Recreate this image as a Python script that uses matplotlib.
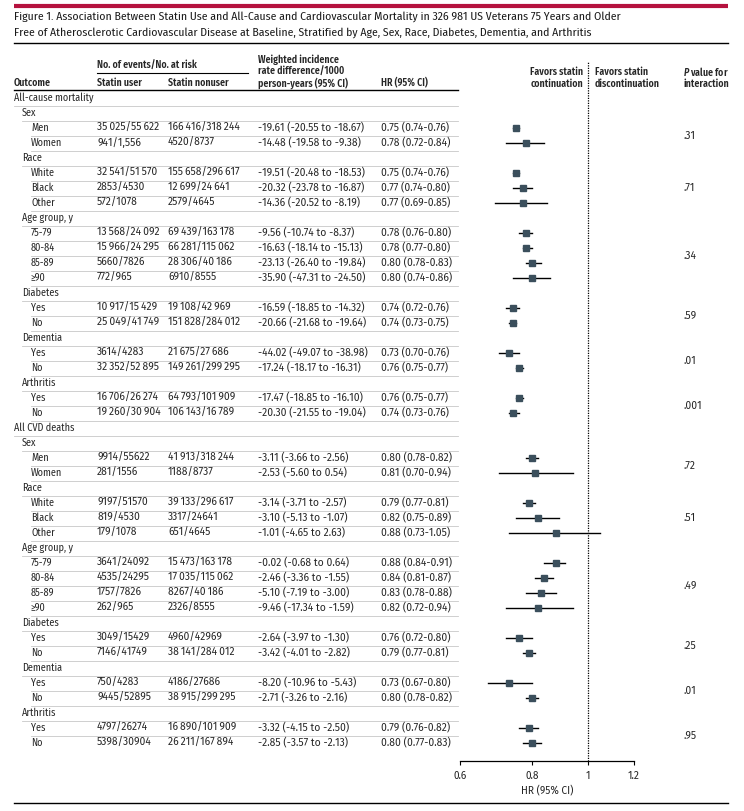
import numpy as np
import matplotlib
matplotlib.use("Agg")
import matplotlib.pyplot as plt
from matplotlib.ticker import FixedLocator, NullLocator

FONT = ['Fira Sans Condensed', 'DejaVu Sans']
NUMFONT = ['Fira Sans', 'DejaVu Sans']
plt.rcParams['font.family'] = FONT
plt.rcParams['mathtext.fontset'] = 'custom'
plt.rcParams['mathtext.it'] = 'Fira Sans Condensed:italic:semibold'
plt.rcParams['mathtext.rm'] = 'Fira Sans Condensed:semibold'

# ---- data ----
outcomes = ["All-cause mortality", "All CVD deaths"]
groups = ["Sex", "Race", "Age group, y", "Diabetes", "Dementia", "Arthritis"]
levels = [["Men", "Women"], ["White", "Black", "Other"],
          ["75-79", "80-84", "85-89", "≥90"], ["Yes", "No"], ["Yes", "No"], ["Yes", "No"]]

acm_user = ["35 025/55 622", "941/1,556", "32 541/51 570", "2853/4530", "572/1078",
            "13 568/24 092", "15 966/24 295", "5660/7826", "772/965", "10 917/15 429",
            "25 049/41 749", "3614/4283", "32 352/52 895", "16 706/26 274", "19 260/30 904"]
acm_nonuser = ["166 416/318 244", "4520/8737", "155 658/296 617", "12 699/24 641", "2579/4645",
               "69 439/163 178", "66 281/115 062", "28 306/40 186", "6910/8555", "19 108/42 969",
               "151 828/284 012", "21 675/27 686", "149 261/299 295", "64 793/101 909",
               "106 143/16 789"]
acm_ird = ["-19.61 (-20.55 to -18.67)", "-14.48 (-19.58 to -9.38)", "-19.51 (-20.48 to -18.53)",
           "-20.32 (-23.78 to -16.87)", "-14.36 (-20.52 to -8.19)", "-9.56 (-10.74 to -8.37)",
           "-16.63 (-18.14 to -15.13)", "-23.13 (-26.40 to -19.84)", "-35.90 (-47.31 to -24.50)",
           "-16.59 (-18.85 to -14.32)", "-20.66 (-21.68 to -19.64)", "-44.02 (-49.07 to -38.98)",
           "-17.24 (-18.17 to -16.31)", "-17.47 (-18.85 to -16.10)", "-20.30 (-21.55 to -19.04)"]
acm_hr = [0.75, 0.78, 0.75, 0.77, 0.77, 0.78, 0.78, 0.80, 0.80, 0.74, 0.74, 0.73, 0.76, 0.76, 0.74]
acm_lo = [0.74, 0.72, 0.74, 0.74, 0.69, 0.76, 0.77, 0.78, 0.74, 0.72, 0.73, 0.70, 0.75, 0.75, 0.73]
acm_hi = [0.76, 0.84, 0.76, 0.80, 0.85, 0.80, 0.80, 0.83, 0.86, 0.76, 0.75, 0.76, 0.77, 0.77, 0.76]
acm_p = [".31", ".71", ".34", ".59", ".01", ".001"]

cvd_user = ["9914/55622", "281/1556", "9197/51570", "819/4530", "179/1078", "3641/24092",
            "4535/24295", "1757/7826", "262/965", "3049/15429", "7146/41749", "750/4283",
            "9445/52895", "4797/26274", "5398/30904"]
cvd_nonuser = ["41 913/318 244", "1188/8737", "39 133/296 617", "3317/24641", "651/4645",
               "15 473/163 178", "17 035/115 062", "8267/40 186", "2326/8555", "4960/42969",
               "38 141/284 012", "4186/27686", "38 915/299 295", "16 890/101 909",
               "26 211/167 894"]
cvd_ird = ["-3.11 (-3.66 to -2.56)", "-2.53 (-5.60 to 0.54)", "-3.14 (-3.71 to -2.57)",
           "-3.10 (-5.13 to -1.07)", "-1.01 (-4.65 to 2.63)", "-0.02 (-0.68 to 0.64)",
           "-2.46 (-3.36 to -1.55)", "-5.10 (-7.19 to -3.00)", "-9.46 (-17.34 to -1.59)",
           "-2.64 (-3.97 to -1.30)", "-3.42 (-4.01 to -2.82)", "-8.20 (-10.96 to -5.43)",
           "-2.71 (-3.26 to -2.16)", "-3.32 (-4.15 to -2.50)", "-2.85 (-3.57 to -2.13)"]
cvd_hr = [0.80, 0.81, 0.79, 0.82, 0.88, 0.88, 0.84, 0.83, 0.82, 0.76, 0.79, 0.73, 0.80, 0.79, 0.80]
cvd_lo = [0.78, 0.70, 0.77, 0.75, 0.73, 0.84, 0.81, 0.78, 0.72, 0.72, 0.77, 0.67, 0.78, 0.76, 0.77]
cvd_hi = [0.82, 0.94, 0.81, 0.89, 1.05, 0.91, 0.87, 0.88, 0.94, 0.80, 0.81, 0.80, 0.82, 0.82, 0.83]
cvd_p = [".72", ".51", ".49", ".25", ".01", ".95"]

x_ticks = [0.6, 0.8, 1, 1.2]
x_ticklabels = ["0.6", "0.8", "1", "1.2"]

title_lines = ["Figure 1. Association Between Statin Use and All-Cause and Cardiovascular Mortality in 326 981 US Veterans 75 Years and Older",
               "Free of Atherosclerotic Cardiovascular Disease at Baseline, Stratified by Age, Sex, Race, Diabetes, Dementia, and Arthritis"]

tables = [(acm_user, acm_nonuser, acm_ird, acm_hr, acm_lo, acm_hi, acm_p),
          (cvd_user, cvd_nonuser, cvd_ird, cvd_hr, cvd_lo, cvd_hi, cvd_p)]

# ---- layout (pixels) ----
W, H = 744, 811
row0, dy = 98, 15
col_label = [14, 22, 31]
col_user, col_non, col_ird, col_hr = 97, 168, 258, 381
table_right = 458
ax_left, ax_right, ax_top, ax_bot = 460, 634, 62, 761
TXT = '#262626'
FS = 7.3      # labels
NFS = 7.4     # numbers
HFS = 7.1     # headers
thin = '\u2009'

fig = plt.figure(figsize=(W / 100, H / 100), dpi=100)
bg = fig.add_axes([0, 0, 1, 1])
bg.set_xlim(0, W)
bg.set_ylim(H, 0)
bg.axis('off')

# title block
bg.plot([14, 728], [6, 6], color='#b5123e', lw=3, solid_capstyle='butt')
for i, line in enumerate(title_lines):
    bg.text(14, 17 + 16 * i, line, fontsize=8.4, color='#1a1a1a', va='center', ha='left')
bg.plot([14, 728], [43, 43], color='black', lw=1)

# column headers
hdr = dict(fontsize=HFS, color=TXT, fontweight='semibold', va='center', ha='left')
bg.text(col_label[0], 83, "Outcome", **hdr)
bg.text(col_user, 66, "No. of events/No. at risk", **hdr)
bg.plot([col_user, 248], [73, 73], color='black', lw=0.8)
bg.text(col_user, 83, "Statin user", **hdr)
bg.text(col_non, 83, "Statin nonuser", **hdr)
bg.text(col_ird, 60, "Weighted incidence", **hdr)
bg.text(col_ird, 71.5, "rate difference/1000", **hdr)
bg.text(col_ird, 83, "person-years (95% CI)", **hdr)
bg.text(col_hr, 83, "HR (95% CI)", **hdr)
bg.plot([14, table_right], [90, 90], color='black', lw=1)
bg.text(583, 72, "Favors statin", **{**hdr, 'ha': 'right'})
bg.text(583, 84, "continuation", **{**hdr, 'ha': 'right'})
bg.text(595, 72, "Favors statin", **hdr)
bg.text(595, 84, "discontinuation", **hdr)
bg.text(683, 72, "$P$ value for", **hdr)
bg.text(683, 84, "interaction", **hdr)

# forest axes
fx = fig.add_axes([ax_left / W, (H - ax_bot) / H, (ax_right - ax_left) / W, (ax_bot - ax_top) / H])
fx.set_xscale('log')
fx.set_xlim(x_ticks[0], x_ticks[-1])
fx.set_ylim((ax_bot - row0) / dy, -(row0 - ax_top) / dy)
fx.patch.set_alpha(0)
for s in ['top', 'right', 'left']:
    fx.spines[s].set_visible(False)
fx.spines['bottom'].set_linewidth(0.9)
fx.xaxis.set_major_locator(FixedLocator(x_ticks))
fx.xaxis.set_minor_locator(NullLocator())
fx.set_xticklabels(x_ticklabels, family=NUMFONT)
fx.tick_params(axis='x', direction='out', length=3, width=0.8, labelsize=FS, labelcolor=TXT, pad=4)
fx.set_yticks([])
fx.set_xlabel("HR (95% CI)", fontsize=FS, color=TXT, labelpad=3, family=NUMFONT)
fx.axvline(1, color='black', lw=0.9, ls=(0, (1, 1)), zorder=1)

# rows
num = dict(fontsize=NFS, color=TXT, va='center', family=NUMFONT)
r = 0
for oi, outcome in enumerate(outcomes):
    user, nonuser, ird, hr, lo, hi, pv = tables[oi]
    k = 0
    bg.text(col_label[0], row0 + r * dy, outcome, fontsize=FS, color=TXT, va='center')
    bg.plot([col_label[0], table_right], [row0 + (r + 0.5) * dy] * 2, color='#c8c8c8', lw=0.6)
    r += 1
    for gi, g in enumerate(groups):
        bg.text(col_label[1], row0 + r * dy, g, fontsize=FS, color=TXT, va='center')
        bg.plot([col_label[1], table_right], [row0 + (r + 0.5) * dy] * 2, color='#c8c8c8', lw=0.6)
        r += 1
        start = r
        for lv in levels[gi]:
            y = row0 + r * dy
            bg.text(col_label[2], y, lv, fontsize=FS, color=TXT, va='center')
            bg.text(col_user, y, user[k].replace(' ', thin), **num)
            bg.text(col_non, y, nonuser[k].replace(' ', thin), **num)
            bg.text(col_ird, y, ird[k], **num)
            bg.text(col_hr, y, f"{hr[k]:.2f} ({lo[k]:.2f}-{hi[k]:.2f})", **num)
            last = (oi == len(outcomes) - 1 and gi == len(groups) - 1 and lv == levels[gi][-1])
            if not last:
                bg.plot([col_label[2], table_right], [y + 0.5 * dy] * 2, color='#c8c8c8', lw=0.6)
            fx.plot([lo[k], hi[k]], [r, r], color='black', lw=1, zorder=2)
            fx.plot(hr[k], r, marker='s', ms=4.6, color='#3b4f5c', zorder=3)
            k += 1
            r += 1
        bg.text(683, row0 + (start + r - 1) / 2 * dy, pv[gi], **num)

bg.plot([14, 728], [803, 803], color='black', lw=1)

fig.savefig("out.png", dpi=100)
